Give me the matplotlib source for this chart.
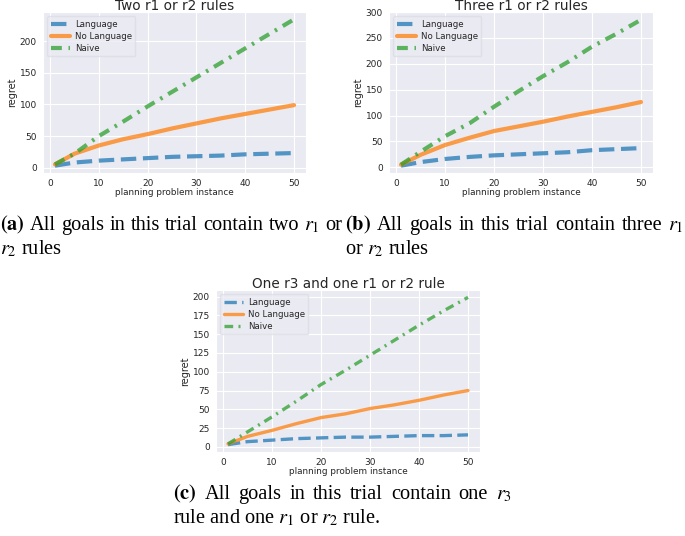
import numpy as np
import matplotlib
matplotlib.use('Agg')
import matplotlib.pyplot as plt
import seaborn as sns

# Data (regret at selected planning problem instances)
instances = [1, 5, 10, 15, 20, 25, 30, 35, 40, 45, 50]

two_language = [3, 8, 11, 13, 15, 17, 18, 19, 21, 22, 23]
two_no_language = [5, 22, 35, 45, 53, 62, 70, 78, 85, 92, 99]
two_naive = [5, 22, 50, 73, 97, 120, 143, 166, 189, 212, 235]

three_language = [3, 10, 16, 20, 23, 25, 27, 29, 33, 35, 37]
three_no_language = [5, 24, 43, 57, 70, 79, 88, 98, 107, 116, 126]
three_naive = [5, 30, 60, 85, 117, 147, 176, 203, 233, 258, 285]

r3_language = [3, 7, 9, 11, 12, 13, 13, 14, 15, 15, 16]
r3_no_language = [4, 14, 22, 31, 39, 44, 51, 56, 62, 69, 75]
r3_naive = [4, 20, 40, 61, 83, 102, 122, 142, 162, 181, 199]

series_names = ['Language', 'No Language', 'Naive']
titles = ['Two r1 or r2 rules', 'Three r1 or r2 rules', 'One r3 and one r1 or r2 rule']

sns.set_style('darkgrid')
plt.rcParams['font.family'] = ['DejaVu Sans']
plt.rcParams['mathtext.fontset'] = 'stix'

W, H = 685, 536
fig = plt.figure(figsize=(W / 100, H / 100), dpi=100)


def px_axes(left, top, right, bottom):
    return fig.add_axes([left / W, 1 - bottom / H, (right - left) / W, (bottom - top) / H])


def draw(ax, data, title, lw):
    colors = ['#1f77b4', '#ff7f0e', '#2ca02c']
    styles = [dict(linestyle='--'), dict(linestyle='-'), dict(dashes=(2.6, 1.6, 0.6, 1.6))]
    for vals, name, c, st in zip(data, series_names, colors, styles):
        ax.plot(instances, vals, color=c, alpha=0.75, lw=lw, label=name, **st)
    ax.set_title(title, fontsize=9.8, pad=1.5)
    ax.set_xlabel('planning problem instance', fontsize=6.4, labelpad=0)
    ax.set_ylabel('regret', fontsize=7, labelpad=2)
    ax.tick_params(labelsize=6.5, pad=1)
    ax.set_xticks([0, 10, 20, 30, 40, 50])
    leg = ax.legend(loc='upper left', fontsize=6.2, frameon=True, handlelength=2.2,
                    borderpad=0.4, labelspacing=0.35, handletextpad=0.6)
    leg.get_frame().set_facecolor('#EAEAF2')
    leg.get_frame().set_edgecolor('#dddde6')


ax_a = px_axes(43, 12, 306, 173)
draw(ax_a, [two_language, two_no_language, two_naive], titles[0], 3)

ax_b = px_axes(389, 12, 653, 173)
draw(ax_b, [three_language, three_no_language, three_naive], titles[1], 3)
ax_b.set_yticks([0, 50, 100, 150, 200, 250, 300])

ax_c = px_axes(216, 290, 480, 452)
draw(ax_c, [r3_language, r3_no_language, r3_naive], titles[2], 2.4)
ax_c.set_yticks(np.arange(0, 201, 25))

# Captions (justified first lines, like the LaTeX subcaptions)
cap = dict(fontsize=14.7, family='Liberation Serif', color='black', va='baseline', ha='left')
renderer = fig.canvas.get_renderer()


def justified(words, x0, x1, y):
    texts = [fig.text(0, 1 - y / H, w, **cap) for w in words]
    widths = [t.get_window_extent(renderer).width for t in texts]
    gap = (x1 - x0 - sum(widths)) / (len(words) - 1)
    x = x0
    for t, w in zip(texts, widths):
        t.set_x(x / W)
        x += w + gap


justified([r'$\mathbf{(a)}$', 'All', 'goals', 'in', 'this', 'trial', 'contain', 'two', '$r_1$', 'or'],
          0, 342, 230)
fig.text(0 / W, 1 - 254 / H, r'$r_2$ rules', **cap)
justified([r'$\mathbf{(b)}$', 'All', 'goals', 'in', 'this', 'trial', 'contain', 'three', '$r_1$'],
          345, 684, 230)
fig.text(345 / W, 1 - 254 / H, r'or $r_2$ rules', **cap)
justified([r'$\mathbf{(c)}$', 'All', 'goals', 'in', 'this', 'trial', 'contain', 'one', '$r_3$'],
          173, 512, 499)
fig.text(173 / W, 1 - 523 / H, r'rule and one $r_1$ or $r_2$ rule.', **cap)

fig.savefig('out.png', dpi=100)
